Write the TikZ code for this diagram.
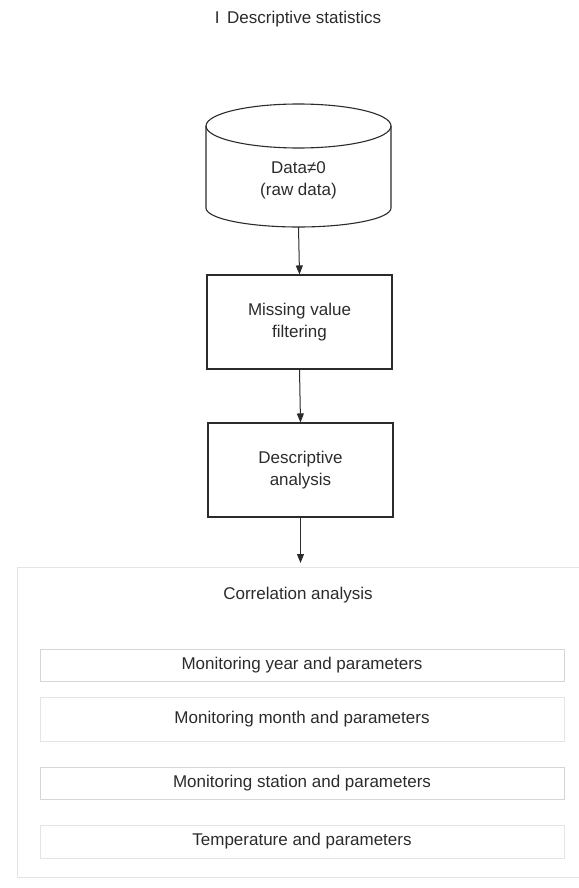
\documentclass[tikz,border=0pt]{standalone}
\usepackage{fontspec}
\setmainfont{Liberation Sans}
\usetikzlibrary{arrows.meta}
\definecolor{ink}{HTML}{2B2B2B}
\definecolor{faint}{HTML}{D6D6D6}
\definecolor{fainter}{HTML}{E4E4E4}
\begin{document}
\begin{tikzpicture}[x=1pt,y=-1pt,
  txt/.style={text=ink,font=\fontsize{17}{22}\selectfont,align=center,inner sep=0pt},
  procbox/.style={draw=ink,line width=1.1pt,minimum width=185pt,minimum height=94pt,
    text=ink,font=\fontsize{17}{22}\selectfont,align=center},
  pairbox/.style={draw=faint,line width=1pt,minimum width=524pt,
    text=ink,font=\fontsize{17}{22}\selectfont,align=center},
  flow/.style={draw=ink,line width=1pt,-{Triangle[length=9pt,width=7pt]}}]
\useasboundingbox (0,0) rectangle (578,888);
% heading
\node[txt] (title) at (298,19) {I\, Descriptive statistics};
% raw data store drawn as a cylinder
\draw[ink,line width=1.1pt] (206,126) -- (206,208)
  arc[start angle=180,end angle=360,x radius=92.5pt,y radius=19pt] -- (391,126);
\draw[ink,line width=1.1pt] (298.5,126) ellipse[x radius=92.5pt,y radius=22pt];
\coordinate (dbbot) at (298.5,227);
\node[txt] (db) at (298.5,180) {Data≠0\\(raw data)};
% processing steps
\node[procbox] (miss) at (299.5,322) {Missing value\\filtering};
\node[procbox] (desc) at (300.5,470) {Descriptive\\analysis};
\coordinate (corrin) at (300.5,563);
\draw[flow] (dbbot) -- (miss.north);
\draw[flow] (miss.south) -- (desc.north);
\draw[flow] (desc.south) -- (corrin);
% correlation block
\draw[fainter,line width=1pt] (17,567) rectangle (600,877);
\node[txt] (corr) at (298,595) {Correlation analysis};
\node[pairbox,minimum height=32pt] (year) at (302,665) {Monitoring year and parameters};
\node[pairbox,draw=fainter,minimum height=44pt] (month) at (302,719) {Monitoring month and parameters};
\node[pairbox,minimum height=32pt] (station) at (302,783) {Monitoring station and parameters};
\node[pairbox,draw=fainter,minimum height=33pt] (temp) at (302,841.5) {Temperature and parameters};
\end{tikzpicture}
\end{document}
